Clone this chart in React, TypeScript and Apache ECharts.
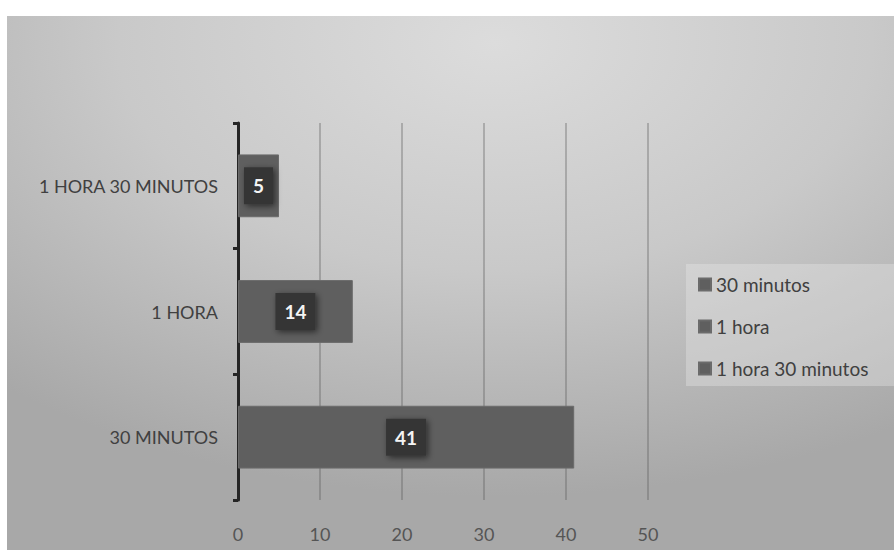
import React, { useEffect, useRef } from "react";
import * as echarts from "echarts";

// Category labels on the vertical axis, bottom to top
const categories = ["30 MINUTOS", "1 HORA", "1 HORA 30 MINUTOS"];
// Legend / series names
const seriesNames = ["30 minutos", "1 hora", "1 hora 30 minutos"];
// Number of answers for each category (same order as categories)
const values = [41, 14, 5];
// Horizontal value axis range
const axisMin = 0;
const axisMax = 50;
const axisStep = 10;

const BAR = "#5f5f5f";
const FONT = "Lato, 'Open Sans', sans-serif";

export default function App() {
  const ref = useRef<HTMLDivElement>(null);

  useEffect(() => {
    if (!ref.current) return;
    document.body.style.margin = "0";
    const chart = echarts.init(ref.current, null, { renderer: "svg" });

    // one series per category, each filling only its own band
    const series = seriesNames.map((name, i) => ({
      name,
      type: "bar",
      barGap: "-100%",
      barCategoryGap: "50%",
      data: values.map((v, j) => (j === i ? v : "-")),
      itemStyle: { color: BAR, borderColor: "#6b6b6b", borderWidth: 1 },
      label: {
        show: true,
        position: "inside",
        color: "#f4f4f4",
        fontFamily: FONT,
        fontWeight: "bold",
        fontSize: 19,
        backgroundColor: "#363636",
        padding: [9, 9, 9, 9],
        shadowColor: "rgba(0,0,0,0.55)",
        shadowBlur: 6,
        shadowOffsetX: 2,
        shadowOffsetY: 2,
      },
    }));

    chart.setOption({
      animation: false,
      graphic: [
        {
          type: "rect",
          z: -10,
          silent: true,
          shape: { x: 7, y: 16, width: 887, height: 534 },
          style: {
            fill: new echarts.graphic.RadialGradient(0.55, 0.05, 0.85, [
              { offset: 0, color: "#dcdcdc" },
              { offset: 0.5, color: "#c9c9c9" },
              { offset: 1, color: "#a8a8a8" },
            ]),
          },
        },
        {
          type: "rect",
          z: -5,
          silent: true,
          shape: { x: 686, y: 264, width: 208, height: 122 },
          style: { fill: "rgba(236,236,236,0.35)" },
        },
      ],
      grid: { left: 238, right: 246, top: 123, bottom: 50, containLabel: false },
      legend: {
        orient: "vertical",
        left: 693,
        top: 270,
        data: seriesNames,
        icon: "rect",
        itemWidth: 12,
        itemHeight: 12,
        itemGap: 23,
        textStyle: { color: "#404040", fontFamily: FONT, fontSize: 19 },
      },
      xAxis: {
        type: "value",
        min: axisMin,
        max: axisMax,
        interval: axisStep,
        axisLine: { show: false },
        axisTick: { show: false },
        splitLine: { lineStyle: { color: "rgba(90,90,90,0.45)", width: 1.5 } },
        axisLabel: {
          color: "#555555",
          fontFamily: FONT,
          fontSize: 18,
          margin: 25,
        },
      },
      yAxis: {
        type: "category",
        data: categories,
        axisLine: { lineStyle: { color: "#252525", width: 3 } },
        axisTick: { show: true, length: 5, lineStyle: { color: "#252525", width: 3 } },
        axisLabel: {
          color: "#404040",
          fontFamily: FONT,
          fontSize: 18,
          margin: 20,
        },
      },
      series,
    });

    return () => chart.dispose();
  }, []);

  return <div ref={ref} style={{ width: 894, height: 550 }} />;
}
